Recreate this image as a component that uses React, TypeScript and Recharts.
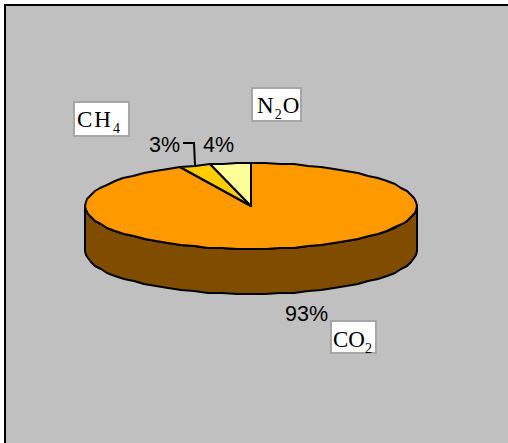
import { Pie, PieChart } from "recharts"

const gases = ["CO2", "CH4", "N2O"]
const shares = [93, 3, 4]
const topColors = ["#FF9900", "#FFCC00", "#FFFF99"]
const percentLabels = ["93%", "3%", "4%"]

const data = gases.map((name, i) => ({ name, value: shares[i], fill: topColors[i] }))

const WIDTH = 508
const HEIGHT = 443
const SQUASH = 43 / 166
const DEPTH = 45
const WALL = "#7F4C00"
const RAD = Math.PI / 180

// outline of the old metafile export is slightly jagged, so snap points to whole pixels
function rim(cx: number, cy: number, r: number, from: number, to: number) {
  const steps = Math.max(1, Math.round(Math.abs(to - from) / 5))
  const pts: string[] = []
  for (let i = 0; i <= steps; i++) {
    const a = (from + ((to - from) * i) / steps) * RAD
    const x = cx + r * Math.cos(a)
    const y = cy - r * SQUASH * Math.sin(a)
    pts.push(`${Math.round(x)},${Math.round(y)}`)
  }
  return pts
}

function Slice3D(props: any) {
  const { cx, cy, outerRadius: r, startAngle, endAngle, fill } = props
  const top = rim(cx, cy, r, startAngle, endAngle)
  // the wall shows only on the front half of the big slice
  const from = Math.max(Math.min(startAngle, endAngle), -180)
  const to = Math.min(Math.max(startAngle, endAngle), 0)
  let wall = null
  if (to > from) {
    const front = rim(cx, cy, r, from, to)
    const lower = rim(cx, cy + DEPTH, r, to, from)
    wall = <polygon points={[...front, ...lower].join(" ")} fill={WALL} stroke="#000" strokeWidth={2} strokeLinejoin="round" />
  }
  return (
    <g>
      {wall}
      <polygon points={[`${cx},${cy}`, ...top].join(" ")} fill={fill} stroke="#000" strokeWidth={2} strokeLinejoin="round" />
    </g>
  )
}

const percentPos = [
  { x: 285, y: 321 },
  { x: 149, y: 152 },
  { x: 203, y: 152 },
]

const boxes = [
  { x: 331, y: 321, w: 45, h: 32, tx: 333, ty: 347, main: "CO", sub: "2", tail: "", spacing: 0 },
  { x: 74, y: 102, w: 55, h: 34, tx: 77, ty: 127, main: "CH", sub: "4", tail: "", spacing: 2 },
  { x: 252, y: 88, w: 49, h: 33, tx: 257, ty: 113, main: "N", sub: "2", tail: "O", spacing: 1 },
]

function SliceLabel(props: any) {
  const i = props.index
  const p = percentPos[i]
  const b = boxes[i]
  return (
    <g>
      <text x={p.x} y={p.y} fontFamily="Liberation Sans" fontSize={21.5} fill="#000">
        {percentLabels[i]}
      </text>
      {i === 1 && <polyline points="183,143 194,143 195,165" fill="none" stroke="#000" strokeWidth={2} />}
      <rect x={b.x} y={b.y} width={b.w} height={b.h} fill="#fff" stroke="#A6A6A6" strokeWidth={2} />
      <text x={b.tx} y={b.ty} fontFamily="Liberation Serif" fontSize={23} fill="#000" letterSpacing={b.spacing}>
        {b.main}
        <tspan fontSize={14} dy={6}>{b.sub}</tspan>
        {b.tail && <tspan dy={-6}>{b.tail}</tspan>}
      </text>
    </g>
  )
}

export default function App() {
  return (
    <div style={{ position: "absolute", left: 0, top: 0, width: WIDTH, height: HEIGHT, background: "#fff" }}>
      <div
        style={{
          position: "absolute",
          left: 4,
          top: 4,
          width: 504,
          height: 439,
          boxSizing: "border-box",
          background: "#C0C0C0",
          borderTop: "2px solid #000",
          borderLeft: "2px solid #000",
        }}
      />
      <div style={{ position: "absolute", left: 0, top: 0 }}>
        <PieChart width={WIDTH} height={HEIGHT} margin={{ top: 0, right: 0, bottom: 0, left: 0 }}>
          <Pie
            data={data}
            dataKey="value"
            nameKey="name"
            cx={251}
            cy={206}
            outerRadius={166}
            startAngle={90}
            endAngle={-270}
            shape={Slice3D}
            label={SliceLabel}
            labelLine={false}
            isAnimationActive={false}
          />
        </PieChart>
      </div>
    </div>
  )
}
